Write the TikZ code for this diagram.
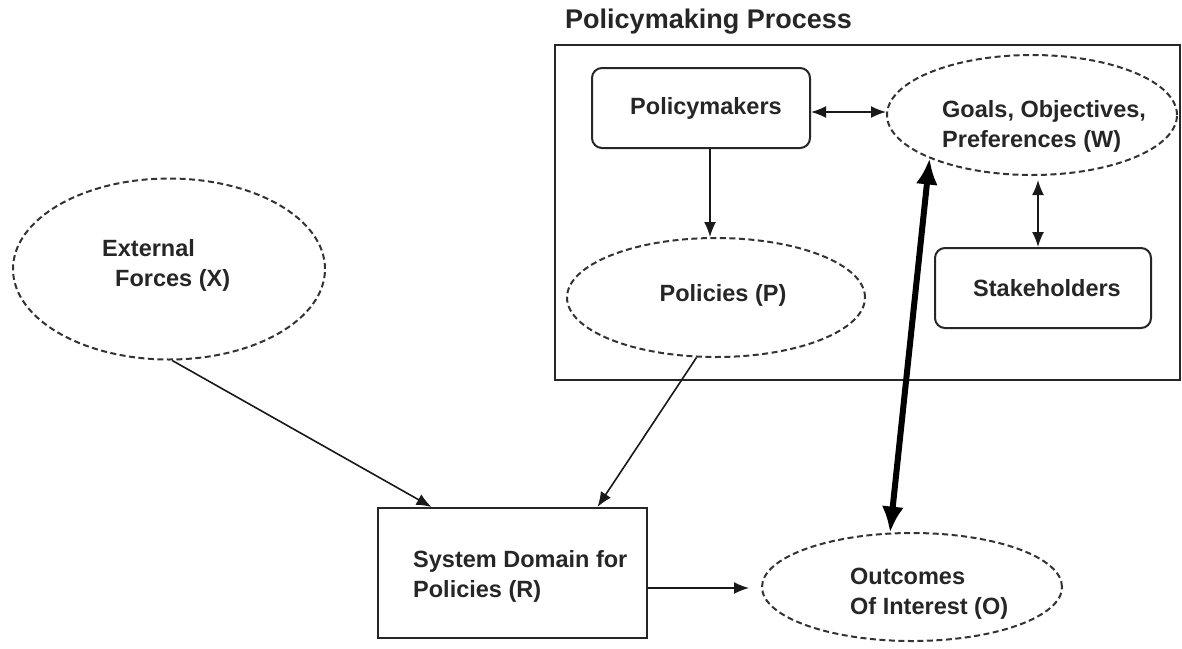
\documentclass[tikz,border=0pt]{standalone}
\usepackage{fontspec}
\setmainfont{Liberation Sans}
\usetikzlibrary{shapes.geometric,arrows.meta}
\begin{document}
\begin{tikzpicture}[x=1pt,y=-1pt,
  every node/.style={font=\fontsize{23.5}{30}\selectfont\bfseries, text=black!85},
  dell/.style={ellipse, draw=black!80, line width=2pt, dash pattern=on 6pt off 3.5pt, inner sep=0pt},
  rbox/.style={rectangle, rounded corners=10pt, draw=black!85, line width=2pt, inner sep=0pt},
  sbox/.style={rectangle, draw=black!85, line width=2pt, inner sep=0pt},
  lbl/.style={align=left, inner sep=0pt},
  arr/.style={draw=black!90, line width=1.6pt, -{Latex[length=15pt,width=12pt]}},
  dbl/.style={draw=black!90, line width=1.6pt, {Latex[length=15pt,width=12pt]}-{Latex[length=15pt,width=12pt]}},
  thick arr/.style={draw=black, line width=6pt, {Latex[length=26pt,width=22pt]}-{Latex[length=26pt,width=22pt]}}
]
\useasboundingbox (0,0) rectangle (1182,648);

% title and process frame
\node[anchor=west, inner sep=0pt, font=\fontsize{27}{32}\selectfont\bfseries] (title) at (565,22) {Policymaking Process};
\node[sbox, minimum width=625pt, minimum height=335pt] (proc) at (867.5,212.5) {};

% nodes inside the process
\node[rbox, minimum width=218pt, minimum height=80pt] (pm) at (701,108) {};
\node (pmtxt) at (706,108) {Policymakers};
\node[dell, minimum width=290pt, minimum height=120pt] (goals) at (1032,115) {};
\node[lbl, anchor=west] (goalstxt) at (942,126) {Goals, Objectives,\\Preferences (W)};
\node[dell, minimum width=298pt, minimum height=119pt] (pol) at (716,297.5) {};
\node (poltxt) at (723,295) {Policies (P)};
\node[rbox, minimum width=216pt, minimum height=80pt] (stake) at (1043,288) {};
\node (staketxt) at (1047,288) {Stakeholders};

% outside nodes
\node[dell, minimum width=312pt, minimum height=181pt] (ext) at (169,269) {};
\node[lbl, anchor=west] (exttxt) at (102,265) {External\\\hspace{13pt}Forces (X)};
\node[sbox, minimum width=269pt, minimum height=130pt] (sys) at (512.5,573) {};
\node[lbl, anchor=west] (systxt) at (413,576) {System Domain for\\Policies (R)};
\node[dell, minimum width=300pt, minimum height=108pt] (out) at (912,587) {};
\node[lbl, anchor=west] (outtxt) at (850,594) {Outcomes\\Of Interest (O)};

% connectors
\draw[dbl] ([yshift=-4pt]pm.east) -- ([yshift=-4pt]pm.east -| goals.west);
\draw[arr] ([xshift=9pt]pm.south) -- ([xshift=9pt]pm.south |- pol.north);
\draw[dbl, shorten <=4pt] ([xshift=-5pt]stake.north |- goals.south) -- ([xshift=-5pt]stake.north);
\draw[thick arr] (goals.203) -- (out.112);
\draw[arr] (ext.272) -- ([xshift=-81pt]sys.north);
\draw[arr] (pol.252) -- ([xshift=85pt]sys.north);
\draw[arr] ([yshift=-15pt]sys.east) -- ([shift={(-12pt,-1pt)}]out.west);
\end{tikzpicture}
\end{document}
